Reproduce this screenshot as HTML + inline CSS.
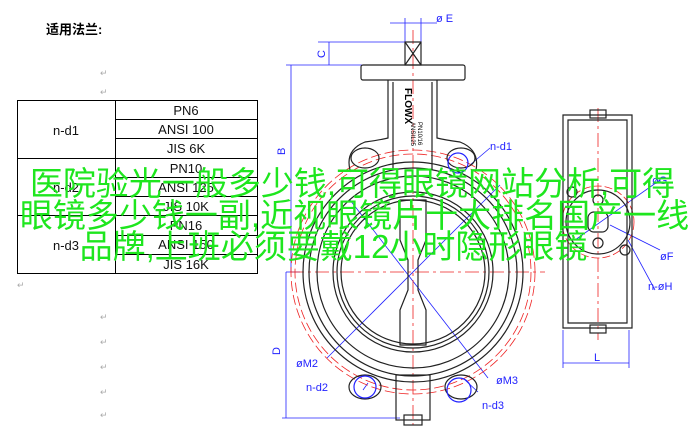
<!DOCTYPE html>
<html><head><meta charset="utf-8"><style>
html,body{margin:0;padding:0;background:#fff;width:697px;height:428px;overflow:hidden;position:relative;font-family:"Liberation Sans","Noto Sans CJK SC",sans-serif}
.g{position:absolute;left:0;width:697px;text-align:center;color:#1ee61e;font-size:33px;line-height:34px;white-space:nowrap;font-family:"Liberation Sans","Noto Sans CJK SC",sans-serif}
</style></head><body>
<svg width="697" height="428" style="position:absolute;left:0;top:0" font-family="Liberation Sans, Noto Sans CJK SC, sans-serif">
<text x="46" y="34" font-size="13" font-weight="bold">适用法兰:</text>
<g fill="#aaa" font-size="9"><text x="100" y="76">↵</text><text x="100" y="95">↵</text><text x="17" y="288">↵</text>
<text x="100" y="320">↵</text><text x="100" y="345">↵</text><text x="100" y="370">↵</text><text x="100" y="395">↵</text><text x="100" y="418">↵</text></g>
<g stroke="#000" stroke-width="1" fill="none">
<rect x="17.5" y="100.5" width="240" height="173"/>
<line x1="115.5" y1="100" x2="115.5" y2="273"/>
<line x1="17" y1="158.5" x2="258" y2="158.5"/><line x1="17" y1="215.5" x2="258" y2="215.5"/>
<line x1="115" y1="119.5" x2="258" y2="119.5"/><line x1="115" y1="138.5" x2="258" y2="138.5"/>
<line x1="115" y1="177.5" x2="258" y2="177.5"/><line x1="115" y1="196.5" x2="258" y2="196.5"/>
<line x1="115" y1="235.5" x2="258" y2="235.5"/><line x1="115" y1="254.5" x2="258" y2="254.5"/>
</g>
<g font-size="13" text-anchor="middle" fill="#111">
<text x="66" y="135">n-d1</text><text x="66" y="250">n-d3</text><text x="66" y="192">n-d2</text>
<text x="186" y="115">PN6</text><text x="186" y="134">ANSI 100</text><text x="186" y="153">JIS 6K</text>
<text x="186" y="173">PN10</text><text x="186" y="192">ANSI 125</text><text x="186" y="211">JIS 10K</text>
<text x="186" y="230">PN16</text><text x="186" y="249">ANSI 150</text><text x="186" y="269">JIS 16K</text>
</g>
<g stroke="#22f" stroke-width="0.8" fill="none">
<line x1="286" y1="65" x2="362" y2="65"/><line x1="291" y1="65" x2="291" y2="272"/>
<line x1="286" y1="272" x2="300" y2="272"/><line x1="286" y1="272" x2="286" y2="418"/><line x1="282" y1="418" x2="400" y2="418"/>
<line x1="318" y1="42" x2="405" y2="42"/><line x1="329" y1="42" x2="329" y2="65"/>
<line x1="390" y1="23" x2="437" y2="23"/><line x1="405" y1="18" x2="405" y2="42"/><line x1="421" y1="18" x2="421" y2="42"/>
<line x1="563" y1="363" x2="629" y2="363"/><line x1="563" y1="330" x2="563" y2="368"/><line x1="629" y1="330" x2="629" y2="368"/>
<line x1="327" y1="358" x2="500" y2="185"/><line x1="350" y1="200" x2="488" y2="378"/>
<line x1="470" y1="165" x2="490" y2="148"/><line x1="363" y1="390" x2="368" y2="383"/><line x1="478" y1="392" x2="465" y2="380"/>
<line x1="575" y1="240" x2="660" y2="180"/><line x1="610" y1="225" x2="660" y2="250"/><line x1="628" y1="240" x2="655" y2="290"/>
</g>
<g fill="#22f" font-size="11">
<text x="285" y="155" transform="rotate(-90 285 155)">B</text><text x="280" y="355" transform="rotate(-90 280 355)">D</text>
<text x="325" y="58" transform="rotate(-90 325 58)">C</text><text x="436" y="22">ø E</text>
<text x="490" y="150">n-d1</text><text x="296" y="367">øM2</text><text x="306" y="391">n-d2</text>
<text x="496" y="384">øM3</text><text x="482" y="409">n-d3</text><text x="652" y="184">øG</text><text x="660" y="260">øF</text><text x="648" y="290">n-øH</text><text x="594" y="361">L</text>
</g>
<g stroke="#e22" stroke-width="0.8" fill="none">
<line x1="413" y1="30" x2="413" y2="425" stroke-dasharray="14 4 3 4"/>
<line x1="290" y1="272" x2="545" y2="272" stroke-dasharray="14 4 3 4"/>
<line x1="598" y1="108" x2="598" y2="340" stroke-dasharray="14 4 3 4"/>
<circle cx="413" cy="272" r="122" stroke-dasharray="10 4"/>
<circle cx="413" cy="272" r="118" stroke-dasharray="10 4"/>
<circle cx="598" cy="222" r="36" stroke-dasharray="8 3"/>
</g>
<g stroke="#222" stroke-width="1.2" fill="none">
<rect x="361" y="65" width="104" height="15" rx="2"/>
<rect x="405" y="42" width="16" height="23"/><line x1="405" y1="42" x2="421" y2="65"/><line x1="421" y1="42" x2="405" y2="65"/>
<path d="M388 80 L388 138 Q380 140 365 142 Q345 150 350 170"/><path d="M437 80 L437 138 Q445 140 460 142 Q480 150 476 170"/>
<line x1="393" y1="82" x2="393" y2="170"/><line x1="432" y1="82" x2="432" y2="170"/>
<circle cx="413" cy="272" r="110"/><circle cx="413" cy="272" r="104"/>
<circle cx="413" cy="272" r="96"/><circle cx="413" cy="272" r="80"/><circle cx="413" cy="272" r="76"/><circle cx="413" cy="272" r="72"/>
<ellipse cx="365" cy="158" rx="14" ry="10"/><ellipse cx="461" cy="158" rx="14" ry="10"/>
<ellipse cx="365" cy="387" rx="16" ry="12"/><ellipse cx="461" cy="387" rx="16" ry="12"/>
<circle cx="365" cy="387" r="11" stroke="#22f"/><circle cx="459" cy="390" r="12" stroke="#22f"/><circle cx="458" cy="163" r="10" stroke="#22f"/>
<rect x="396" y="375" width="34" height="45"/><rect x="404" y="415" width="18" height="10"/>
<path d="M400 200 L400 240 L408 260 L408 290 L400 310 L400 345 L426 345 L426 310 L418 290 L418 260 L426 240 L426 200 Z"/>
<path d="M563 115 L632 115 L632 328 L563 328 Z"/><path d="M568 120 L627 120 L627 323 L568 323 Z"/>
<rect x="590" y="110" width="16" height="8"/><rect x="590" y="325" width="16" height="8"/>
<circle cx="598" cy="222" r="32"/><circle cx="598" cy="200" r="5"/><circle cx="598" cy="243" r="5"/><rect x="588" y="212" width="20" height="20" rx="6"/>
<circle cx="572" cy="192" r="5"/><circle cx="625" cy="250" r="5"/>
</g>
<text x="0" y="0" font-size="10" font-weight="bold" transform="translate(405 88) rotate(90)">FLOWX</text>
<text x="0" y="0" font-size="6" transform="translate(418 122) rotate(90)">PN10/16</text>
<text x="0" y="0" font-size="6" transform="translate(411 122) rotate(90)">ANSI125</text>
</svg>
<div class="g" style="top:167px;left:4px">医院验光一般多少钱,可得眼镜网站分析,可得</div>
<div class="g" style="top:199px;left:6px">眼镜多少钱一副,近视眼镜片十大排名国产一线</div>
<div class="g" style="top:230px;left:-15px">品牌,上班必须要戴12小时隐形眼镜</div>
</body></html>
